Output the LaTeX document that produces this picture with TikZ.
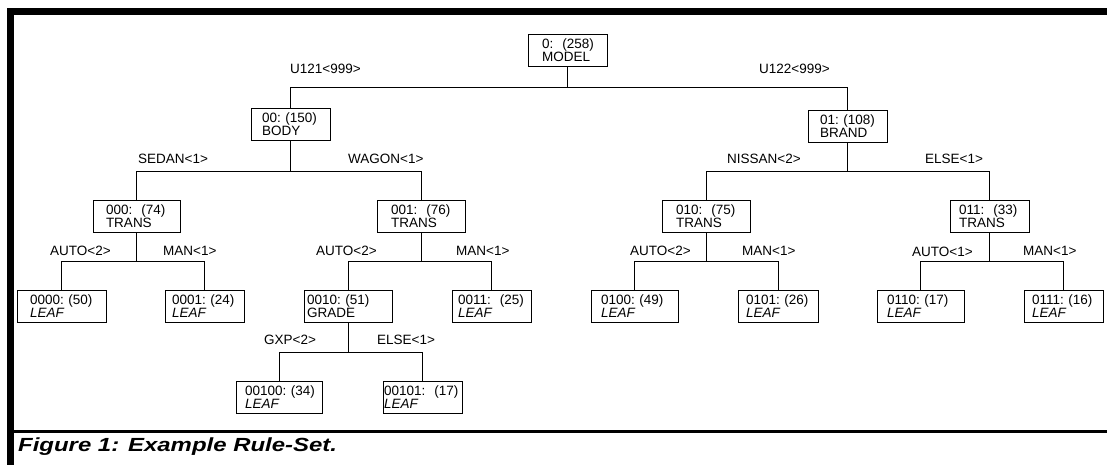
\documentclass[tikz,border=0pt]{standalone}
\usepackage{fontspec}
\setmainfont{Liberation Sans}
\begin{document}
\begin{tikzpicture}[x=1pt,y=-1pt,
  every node/.style={font=\fontsize{13.5}{13}\selectfont},
  box/.style n args={2}{draw,line width=0.9pt,align=left,text width=#1,inner xsep=#2,inner ysep=0pt,minimum height=32pt},
  lbl/.style={anchor=west,inner sep=0pt},
  edge/.style={line width=0.9pt},
  bar/.style={fill=black,draw=none}]
\useasboundingbox (0,0) rectangle (1107,465);
% frame
\fill[bar] (7.3,8.3) rectangle (1107,15);
\fill[bar] (7.3,8.3) rectangle (14,465);
\fill[bar] (14,430) rectangle (1107,432.7);
\node[anchor=base west,inner sep=0pt,font=\fontsize{19}{19}\selectfont\bfseries\itshape] (cap) at (18,451.7) {\scalebox{1.26}[1]{Figure 1: Example Rule-Set.}};
% bus levels
\coordinate (b0) at (0,87);
\coordinate (b1) at (0,171);
\coordinate (b2) at (0,261);
\coordinate (b3) at (0,352);
% nodes: text width = W - 2 pad
\node[box={51pt}{14pt}] (n0) at (567.5,50) {0:~~(258)\\MODEL};
\node[box={57pt}{11pt}] (n00) at (290.5,124) {00:~(150)\\BODY};
\node[box={55pt}{12pt}] (n01) at (847.5,126) {01:~(108)\\BRAND};
\node[box={61pt}{13pt}] (n000) at (136.5,216) {000:~~(74)\\TRANS};
\node[box={60pt}{14pt}] (n001) at (421,216) {001:~~(76)\\TRANS};
\node[box={60pt}{14pt}] (n010) at (706,216) {010:~~(75)\\TRANS};
\node[box={61pt}{9pt}] (n011) at (989.5,216) {011:~~(33)\\TRANS};
\node[box={63pt}{13pt}] (n0000) at (61.5,306) {0000:~(50)\\\textit{LEAF}};
\node[box={65pt}{7pt}] (n0001) at (204.5,306) {0001:~(24)\\\textit{LEAF}};
\node[box={82pt}{3pt}] (n0010) at (348,306) {0010:~(51)\\GRADE};
\node[box={67pt}{6pt}] (n0011) at (491.5,306) {0011:~~(25)\\\textit{LEAF}};
\node[box={67pt}{10pt}] (n0100) at (634.5,306) {0100:~(49)\\\textit{LEAF}};
\node[box={64pt}{8pt}] (n0101) at (778,306) {0101:~(26)\\\textit{LEAF}};
\node[box={67pt}{10pt}] (n0110) at (920.5,306) {0110:~(17)\\\textit{LEAF}};
\node[box={63pt}{8pt}] (n0111) at (1063.5,306) {0111:~(16)\\\textit{LEAF}};
\node[box={68pt}{9pt}] (n00100) at (279,397) {00100:~(34)\\\textit{LEAF}};
\node[box={77pt}{1pt}] (n00101) at (422.5,397) {00101:~~(17)\\\textit{LEAF}};
% connectors
\draw[edge] (n0.south) -- (n0.south |- b0) -| (n00.north);
\draw[edge] (n0.south |- b0) -| (n01.north);
\draw[edge] (n00.south) -- (n00.south |- b1) -| (n000.north);
\draw[edge] (n00.south |- b1) -| (n001.north);
\draw[edge] (n01.south) -- (n01.south |- b1) -| (n010.north);
\draw[edge] (n01.south |- b1) -| (n011.north);
\draw[edge] (n000.south) -- (n000.south |- b2) -| (n0000.north);
\draw[edge] (n000.south |- b2) -| (n0001.north);
\draw[edge] (n001.south) -- (n001.south |- b2) -| (n0010.north);
\draw[edge] (n001.south |- b2) -| (n0011.north);
\draw[edge] (n010.south) -- (n010.south |- b2) -| (n0100.north);
\draw[edge] (n010.south |- b2) -| (n0101.north);
\draw[edge] (n011.south) -- (n011.south |- b2) -| (n0110.north);
\draw[edge] (n011.south |- b2) -| (n0111.north);
\draw[edge] (n0010.south) -- (n0010.south |- b3) -| (n00100.north);
\draw[edge] (n0010.south |- b3) -| (n00101.north);
% labels
\node[lbl] (l1) at (290,69) {U121<999>};
\node[lbl] (l2) at (759,69) {U122<999>};
\node[lbl] (l3) at (138,159) {SEDAN<1>};
\node[lbl] (l4) at (348,159) {WAGON<1>};
\node[lbl] (l5) at (727,159) {NISSAN<2>};
\node[lbl] (l6) at (925,159) {ELSE<1>};
\node[lbl] (l7) at (50,251) {AUTO<2>};
\node[lbl] (l8) at (163,251) {MAN<1>};
\node[lbl] (l9) at (316,251) {AUTO<2>};
\node[lbl] (l10) at (456,251) {MAN<1>};
\node[lbl] (l11) at (630,251) {AUTO<2>};
\node[lbl] (l12) at (742,251) {MAN<1>};
\node[lbl] (l13) at (912,252) {AUTO<1>};
\node[lbl] (l14) at (1023,251) {MAN<1>};
\node[lbl] (l15) at (264,340) {GXP<2>};
\node[lbl] (l16) at (377,340) {ELSE<1>};
\end{tikzpicture}
\end{document}
